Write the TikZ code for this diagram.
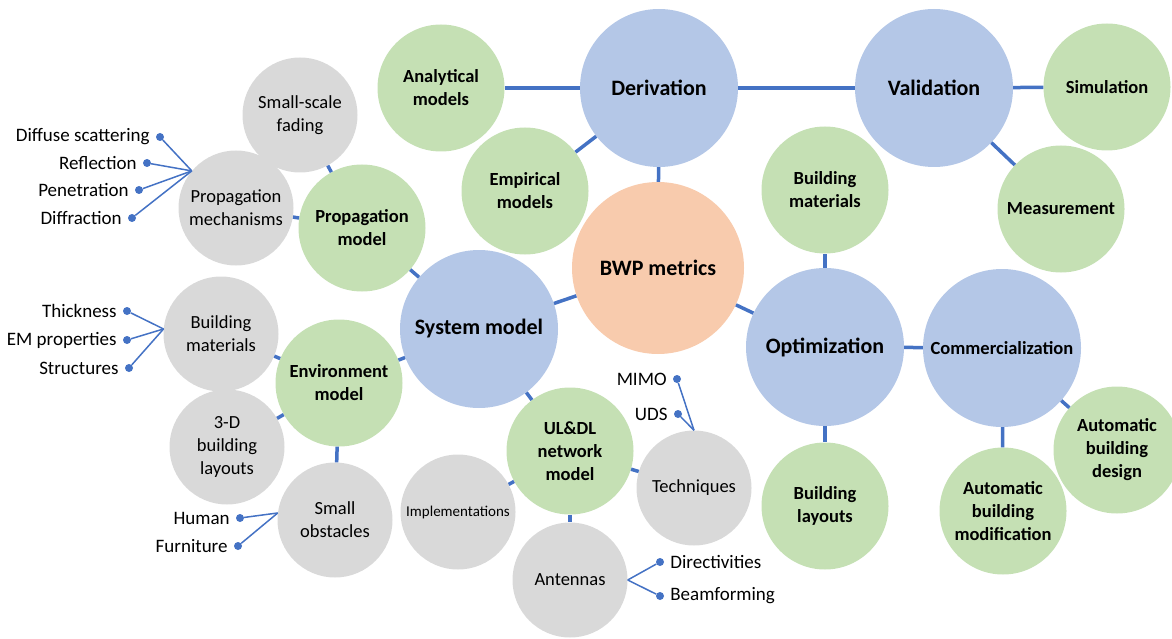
\documentclass[tikz,border=0pt]{standalone}
\usepackage{fontspec}
\setmainfont{Carlito}
\usetikzlibrary{positioning}
\definecolor{lineblue}{HTML}{4472C4}
\definecolor{topicblue}{HTML}{B4C7E7}
\definecolor{subgreen}{HTML}{C5E0B4}
\definecolor{detailgray}{HTML}{D9D9D9}
\definecolor{coreorange}{HTML}{F8CBAD}
\tikzstyle{topic}=[circle,fill=topicblue,minimum size=158pt,inner sep=0pt,align=center,font=\fontsize{22}{26}\selectfont\bfseries]
\tikzstyle{core}=[topic,fill=coreorange,minimum size=172pt]
\tikzstyle{sub}=[circle,fill=subgreen,minimum size=127pt,inner sep=0pt,align=center,font=\fontsize{18.5}{23}\selectfont\bfseries]
\tikzstyle{detail}=[circle,fill=detailgray,minimum size=115pt,inner sep=0pt,align=center,font=\fontsize{18.5}{23}\selectfont]
\tikzstyle{link}=[lineblue,line width=3.5pt]
\tikzstyle{twig}=[lineblue,line width=1.5pt]
\tikzstyle{dot}=[circle,fill=lineblue,inner sep=0pt,minimum size=8pt]
\tikzstyle{tip}=[inner sep=0pt,font=\fontsize{19}{22}\selectfont]

\begin{document}
\begin{tikzpicture}[x=1pt,y=-1pt]
  \useasboundingbox (0,0) rectangle (1172,639);

  \node[topic] (deriv) at (659,88) {Derivation};
  \node[topic] (valid) at (934,88) {Validation};
  \node[topic] (sysm) at (479,329) {System model};
  \node[topic] (optim) at (825,347) {Optimization};
  \node[topic,font=\fontsize{18.5}{23}\selectfont\bfseries] (comm) at (1002,348) {Commercialization};
  \node[core] (bwp) at (658,268) {BWP metrics};

  \node[sub] (anal) at (441,88) {Analytical\\models};
  \node[sub] (simu) at (1107,87) {Simulation};
  \node[sub] (empi) at (525,191) {Empirical\\models};
  \node[sub] (bmat) at (825,190) {Building\\materials};
  \node[sub] (meas) at (1061,209) {Measurement};
  \node[sub] (propm) at (362,228) {Propagation\\model};
  \node[sub] (envm) at (339,383) {Environment\\model};
  \node[sub] (netm) at (570,451) {UL\&DL\\network\\model};
  \node[sub] (blay) at (825,506) {Building\\layouts};
  \node[sub] (adesign) at (1117,450) {Automatic\\building\\design};
  \node[sub] (amod) at (1003,511) {Automatic\\building\\modification};

  \node[detail] (ssf) at (300,115) {Small-scale\\fading};
  \node[detail] (pmech) at (236,208) {Propagation\\mechanisms};
  \node[detail] (gmat) at (221,334) {Building\\materials};
  \node[detail] (glay) at (227,447) {3-D\\building\\layouts};
  \node[detail] (sobs) at (335,520) {Small\\obstacles};
  \node[detail,font=\fontsize{15}{18}\selectfont] (impl) at (458,512) {Implementations};
  \node[detail] (tech) at (694,488) {Techniques};
  \node[detail] (ante) at (570,580) {Antennas};

  \draw[link] (anal) -- (deriv);
  \draw[link] (deriv) -- (valid);
  \draw[link] (valid) -- (simu);
  \draw[link] (valid) -- (meas);
  \draw[link] (deriv) -- (empi);
  \draw[link] (deriv) -- (bwp);
  \draw[link] (bwp) -- (sysm);
  \draw[link] (bwp) -- (optim);
  \draw[link] (optim) -- (bmat);
  \draw[link] (optim) -- (blay);
  \draw[link] (optim) -- (comm);
  \draw[link] (comm) -- (amod);
  \draw[link] (comm) -- (adesign);
  \draw[link] (sysm) -- (propm);
  \draw[link] (sysm) -- (envm);
  \draw[link] (sysm) -- (netm);
  \draw[link] (propm) -- (ssf);
  \draw[link] (propm) -- (pmech);
  \draw[link] (envm) -- (gmat);
  \draw[link] (envm) -- (glay);
  \draw[link] (envm) -- (sobs);
  \draw[link] (netm) -- (impl);
  \draw[link] (netm) -- (tech);
  \draw[link] (netm) -- (ante);

  \node[dot] (scat) at (160,137) {};
  \node[dot] (refl) at (147,163) {};
  \node[dot] (pene) at (139,190) {};
  \node[dot] (diff) at (132,218) {};
  \node[tip,left=6pt of scat] {Diffuse scattering};
  \node[tip,left=6pt of refl] {Reflection};
  \node[tip,left=6pt of pene] {Penetration};
  \node[tip,left=6pt of diff] {Diffraction};
  \draw[twig] (pmech.140) -- (scat);
  \draw[twig] (pmech.140) -- (refl);
  \draw[twig] (pmech.140) -- (pene);
  \draw[twig] (pmech.140) -- (diff);

  \node[dot] (thick) at (127,311) {};
  \node[dot] (emprop) at (127,340) {};
  \node[dot] (struct) at (129,368) {};
  \node[tip,left=6pt of thick] {Thickness};
  \node[tip,left=6pt of emprop] {EM properties};
  \node[tip,left=6pt of struct] {Structures};
  \draw[twig] (gmat.175) -- (thick);
  \draw[twig] (gmat.175) -- (emprop);
  \draw[twig] (gmat.175) -- (struct);

  \node[dot] (human) at (240,518) {};
  \node[dot] (furn) at (238,546) {};
  \node[tip,left=6pt of human] {Human};
  \node[tip,left=6pt of furn] {Furniture};
  \draw[twig] (sobs.173) -- (human);
  \draw[twig] (sobs.173) -- (furn);

  \node[dot] (mimo) at (677,379) {};
  \node[dot] (uds) at (678,414) {};
  \node[tip,left=6pt of mimo] {MIMO};
  \node[tip,left=6pt of uds] {UDS};
  \draw[twig] (tech.north) -- (mimo);
  \draw[twig] (tech.north) -- (uds);

  \node[dot] (direc) at (660,562) {};
  \node[dot] (beam) at (660,596) {};
  \node[tip,right=6pt of direc] {Directivities};
  \node[tip,right=6pt of beam] {Beamforming};
  \draw[twig] (ante.east) -- (direc);
  \draw[twig] (ante.east) -- (beam);
\end{tikzpicture}
\end{document}
